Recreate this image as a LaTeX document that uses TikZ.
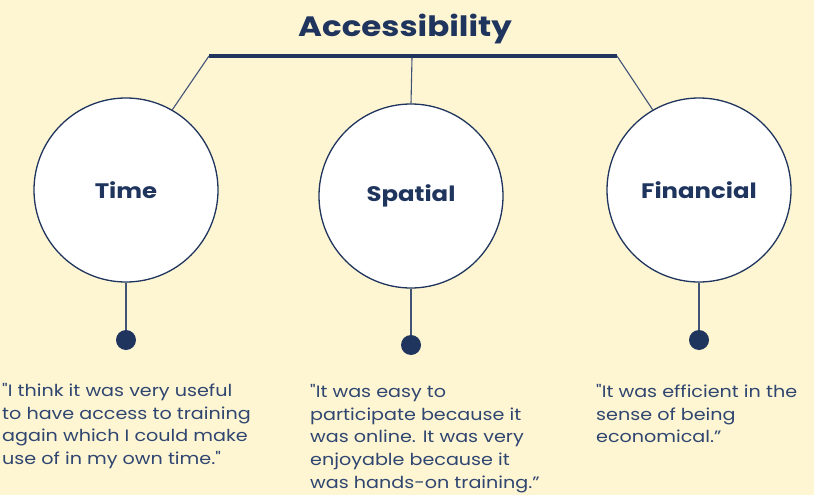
\documentclass[tikz,border=0pt]{standalone}
\usepackage{fontspec}
\setmainfont{Poppins}[Ligatures=TeXOff,FakeStretch=1.16]
\definecolor{bg}{HTML}{FEF5D3}
\definecolor{navy}{HTML}{1F355E}
\definecolor{quote}{HTML}{2F4670}
\tikzset{
  topic/.style={circle,draw=navy,line width=1.3pt,fill=white,minimum size=184pt,inner sep=0pt,
    font=\fontsize{21}{24}\selectfont\bfseries,text=navy},
  link/.style={draw=navy!85!white,line width=1.1pt},
  bead/.style={circle,fill=navy,minimum size=20pt,inner sep=0pt},
  quotetext/.style={anchor=north west,align=left,inner sep=0pt,text=quote,
    font=\fontsize{16.5}{22.8}\selectfont}
}
\begin{document}
\begin{tikzpicture}[x=1pt,y=-1pt]
\fill[bg] (0,0) rectangle (814,495);
\useasboundingbox (0,0) rectangle (814,495);
\node[font=\fontsize{28}{31}\selectfont\bfseries,text=navy] (title) at (405,29) {Accessibility};
\coordinate (barL) at (209,56);
\coordinate (barR) at (617,56);
\draw[navy,line width=4pt] (barL) -- (barR);
\node[topic] (time) at (126,190) {Time};
\node[topic] (spatial) at (411,196) {Spatial};
\node[topic] (fin) at (699,190) {Financial};
\coordinate (barC) at (412,58);
\draw[link] (barL) -- (time.60);
\draw[link] (barC) -- (spatial.north);
\draw[link] (barR) -- (fin.120);
\node[bead] (d1) at (126,340) {};
\node[bead] (d2) at (411,345) {};
\node[bead] (d3) at (699,340) {};
\draw[link] (time.south) -- (d1);
\draw[link] (spatial.south) -- (d2);
\draw[link] (fin.south) -- (d3);
\node[quotetext] (q1) at (2,383) {"I think it was very useful\\to have access to training\\again which I could make\\use of in my own time."};
\node[quotetext] (q2) at (310,384) {"It was easy to\\participate because it\\was online. It was very\\enjoyable because it\\was hands-on training.”};
\node[quotetext] (q3) at (596,384) {"It was efficient in the\\sense of being\\economical.”};
\end{tikzpicture}
\end{document}
